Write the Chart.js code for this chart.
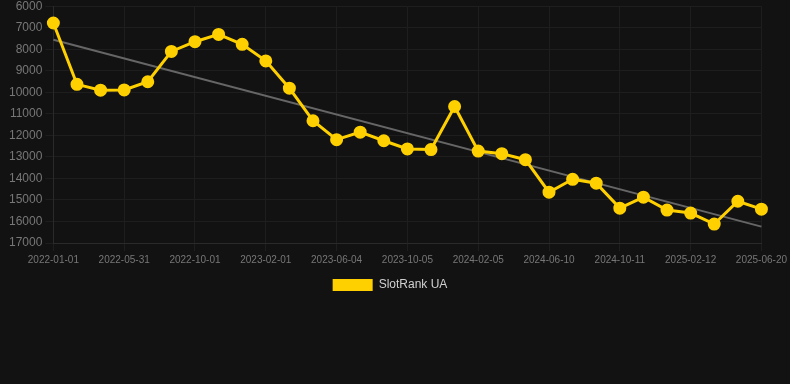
<!DOCTYPE html>
<html>
<head>
<meta charset="utf-8">
<script src="https://cdn.jsdelivr.net/npm/chart.js@4"></script>
<style>
  html, body { margin: 0; padding: 0; background: #121212; overflow: hidden; }
  #wrap { position: relative; top: -4px; width: 790px; height: 305px; }
</style>
</head>
<body>
<div id="wrap"><canvas id="c"></canvas></div>
<script>
const dates = [
  "2022-01-01","2022-02-19","2022-04-10","2022-05-31","2022-07-11","2022-08-21",
  "2022-10-01","2022-11-11","2022-12-22","2023-02-01","2023-03-14","2023-04-24",
  "2023-06-04","2023-07-15","2023-08-25","2023-10-05","2023-11-15","2023-12-26",
  "2024-02-05","2024-03-17","2024-04-28","2024-06-10","2024-07-21","2024-08-31",
  "2024-10-11","2024-11-21","2025-01-01","2025-02-12","2025-03-27","2025-05-08",
  "2025-06-20"
];
const rankValues = [
  6780, 9630, 9900, 9890, 9510, 8100, 7650, 7310, 7770, 8540, 9810,
  11320, 12200, 11850, 12250, 12630, 12660, 10660, 12730, 12850, 13130,
  14640, 14040, 14220, 15380, 14870, 15470, 15610, 16120, 15060, 15430
];
const trendStart = 7560;
const trendEnd = 16240;
const trendValues = dates.map((d, i) => i === 0 ? trendStart : (i === dates.length - 1 ? trendEnd : null));
const yTicks = { min: 6000, max: 17000, step: 1000 };

const FONT = 'Liberation Sans, Arial, sans-serif';

new Chart(document.getElementById('c'), {
  type: 'line',
  data: {
    labels: dates,
    datasets: [
      {
        label: 'SlotRank UA',
        data: rankValues,
        borderColor: '#FFD000',
        backgroundColor: '#FFD000',
        borderWidth: 3,
        pointRadius: 5,
        pointHoverRadius: 5,
        pointBackgroundColor: '#FFD000',
        pointBorderColor: '#FFD000',
        tension: 0
      },
      {
        label: 'trend',
        data: trendValues,
        spanGaps: true,
        borderColor: '#666666',
        borderWidth: 2,
        pointRadius: 0,
        fill: false
      }
    ]
  },
  options: {
    responsive: true,
    maintainAspectRatio: false,
    animation: false,
    layout: { padding: { left: 6, right: 16, top: 0, bottom: 0 } },
    plugins: {
      legend: {
        position: 'bottom',
        labels: {
          color: '#d0d0d0',
          font: { family: FONT, size: 12 },
          boxWidth: 40,
          boxHeight: 12,
          generateLabels: (chart) => Chart.defaults.plugins.legend.labels.generateLabels(chart)
            .filter(it => it.text === 'SlotRank UA')
            .map(it => Object.assign(it, { lineWidth: 0, strokeStyle: 'rgba(0,0,0,0)' }))
        }
      },
      tooltip: { enabled: false }
    },
    scales: {
      x: {
        grid: { color: '#1e1e1e' },
        border: { color: '#2a2a2a' },
        ticks: {
          color: '#777',
          font: { family: FONT, size: 10 },
          maxRotation: 0,
          autoSkip: true
        }
      },
      y: {
        reverse: true,
        min: yTicks.min,
        max: yTicks.max,
        grid: { color: '#1e1e1e' },
        border: { color: '#2a2a2a' },
        ticks: {
          stepSize: yTicks.step,
          color: '#777',
          font: { family: FONT, size: 12 },
          callback: (v) => String(v)
        }
      }
    }
  }
});
</script>
</body>
</html>
